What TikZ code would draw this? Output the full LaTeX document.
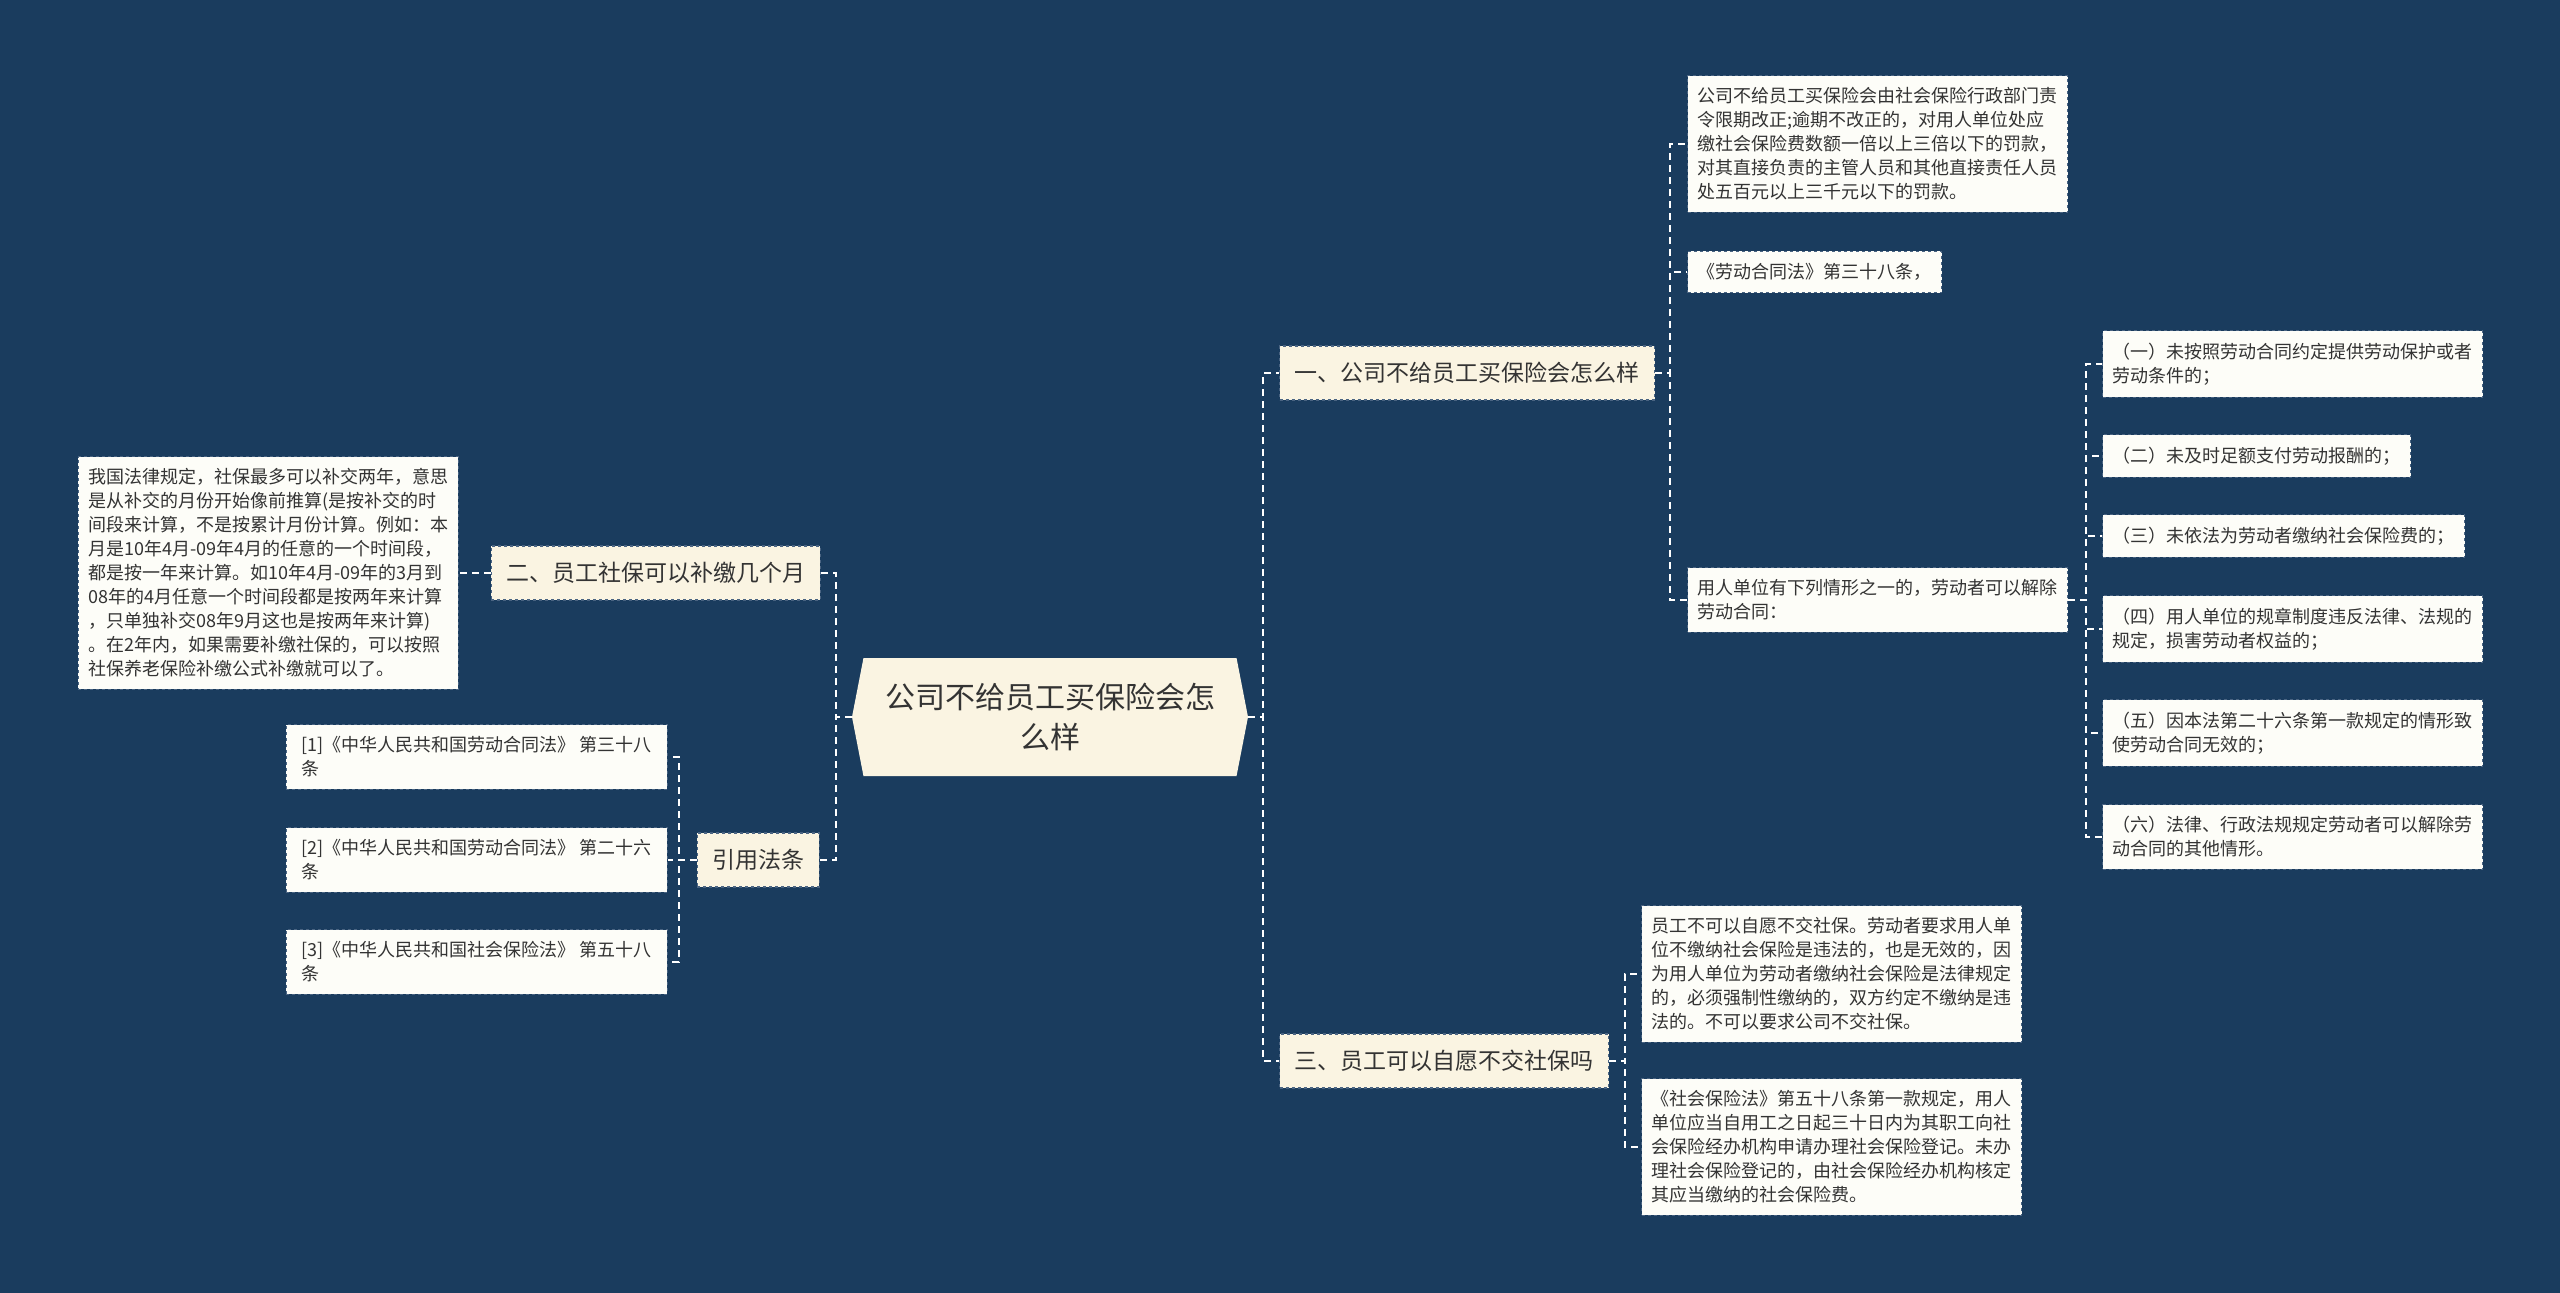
\documentclass[tikz,border=0pt]{standalone}
\usepackage{fontspec}
\setmainfont{Noto Sans CJK SC}
\usepackage{xcolor}
\definecolor{Night}{HTML}{1A3C5E}
\definecolor{Cream}{HTML}{FAF4E2}
\definecolor{Paper}{HTML}{FDFDF8}
\definecolor{Edge}{HTML}{4A6482}
\definecolor{Ink}{HTML}{333333}
\usepackage{tikz}
\usetikzlibrary{shapes.symbols}
\tikzset{
  hub/.style={signal,signal to=east and west,signal pointer angle=158,fill=Cream,
    minimum width=396pt,minimum height=118pt,align=center,text=Ink,
    font=\fontsize{30}{40}\selectfont},
  topic/.style={draw=Edge,dashed,fill=Cream,line width=1.2pt,minimum height=54pt,
    inner xsep=15pt,text=Ink,font=\fontsize{23}{28}\selectfont},
  leaf/.style={draw=Edge,dashed,fill=Paper,line width=1.2pt,align=left,
    inner xsep=10pt,inner ysep=12pt,text=Ink,font=\fontsize{18}{24}\selectfont},
  link/.style={draw=white,line width=2.4pt,dash pattern=on 7pt off 5pt}
}

\begin{document}
\begin{tikzpicture}[x=1pt,y=-1pt]
  \fill[Night] (0,0) rectangle (2560,1293);
  \useasboundingbox (0,0) rectangle (2560,1293);

  \node[hub] (hub) at (1050,717) {公司不给员工买保险会怎\\么样};

  % right side
  \node[topic, anchor=west] (q1) at (1279,373) {一、公司不给员工买保险会怎么样};
  \node[topic, anchor=west] (q3) at (1279,1061) {三、员工可以自愿不交社保吗};
  \node[leaf, anchor=west] (q1a) at (1687,144) {公司不给员工买保险会由社会保险行政部门责\\令限期改正;逾期不改正的，对用人单位处应\\缴社会保险费数额一倍以上三倍以下的罚款，\\对其直接负责的主管人员和其他直接责任人员\\处五百元以上三千元以下的罚款。};
  \node[leaf, anchor=west] (q1b) at (1687,272) {《劳动合同法》第三十八条，};
  \node[leaf, anchor=west] (q1c) at (1687,600) {用人单位有下列情形之一的，劳动者可以解除\\劳动合同：};
  \node[leaf, anchor=west] (r1) at (2102,364) {（一）未按照劳动合同约定提供劳动保护或者\\劳动条件的；};
  \node[leaf, anchor=west] (r2) at (2102,456) {（二）未及时足额支付劳动报酬的；};
  \node[leaf, anchor=west] (r3) at (2102,536) {（三）未依法为劳动者缴纳社会保险费的；};
  \node[leaf, anchor=west] (r4) at (2102,629) {（四）用人单位的规章制度违反法律、法规的\\规定，损害劳动者权益的；};
  \node[leaf, anchor=west] (r5) at (2102,733) {（五）因本法第二十六条第一款规定的情形致\\使劳动合同无效的；};
  \node[leaf, anchor=west] (r6) at (2102,837) {（六）法律、行政法规规定劳动者可以解除劳\\动合同的其他情形。};
  \node[leaf, anchor=west] (q3a) at (1641,974) {员工不可以自愿不交社保。劳动者要求用人单\\位不缴纳社会保险是违法的，也是无效的，因\\为用人单位为劳动者缴纳社会保险是法律规定\\的，必须强制性缴纳的，双方约定不缴纳是违\\法的。不可以要求公司不交社保。};
  \node[leaf, anchor=west] (q3b) at (1641,1147) {《社会保险法》第五十八条第一款规定，用人\\单位应当自用工之日起三十日内为其职工向社\\会保险经办机构申请办理社会保险登记。未办\\理社会保险登记的，由社会保险经办机构核定\\其应当缴纳的社会保险费。};

  % left side
  \node[topic, anchor=east] (q2) at (821,573) {二、员工社保可以补缴几个月};
  \node[topic, anchor=east] (cites) at (820,860) {引用法条};
  \node[leaf, anchor=east] (q2a) at (459,573) {我国法律规定，社保最多可以补交两年，意思\\是从补交的月份开始像前推算(是按补交的时\\间段来计算，不是按累计月份计算。例如：本\\月是10年4月-09年4月的任意的一个时间段，\\都是按一年来计算。如10年4月-09年的3月到\\08年的4月任意一个时间段都是按两年来计算\\，只单独补交08年9月这也是按两年来计算)\\。在2年内，如果需要补缴社保的，可以按照\\社保养老保险补缴公式补缴就可以了。};
  \node[leaf, anchor=east, minimum width=381pt] (cite1) at (668,757) {[1]《中华人民共和国劳动合同法》 第三十八\\条};
  \node[leaf, anchor=east, minimum width=381pt] (cite2) at (668,860) {[2]《中华人民共和国劳动合同法》 第二十六\\条};
  \node[leaf, anchor=east, minimum width=381pt] (cite3) at (668,962) {[3]《中华人民共和国社会保险法》 第五十八\\条};

  \draw[link] (hub.east) -- ++(15,0) |- (q1.west);
  \draw[link] (hub.east) -- ++(15,0) |- (q3.west);
  \draw[link] (hub.west) -- ++(-16,0) |- (q2.east);
  \draw[link] (hub.west) -- ++(-16,0) |- (cites.east);
  \foreach \k in {q1a,q1b,q1c}
    \draw[link] (q1.east) -- ++(15,0) |- (\k.west);
  \foreach \k in {r1,r2,r3,r4,r5,r6}
    \draw[link] (q1c.east) -- ++(18,0) |- (\k.west);
  \foreach \k in {q3a,q3b}
    \draw[link] (q3.east) -- ++(16,0) |- (\k.west);
  \draw[link] (q2.west) -- (q2a.east);
  \foreach \k in {cite1,cite2,cite3}
    \draw[link] (cites.west) -- ++(-18,0) |- (\k.east);
\end{tikzpicture}
\end{document}
